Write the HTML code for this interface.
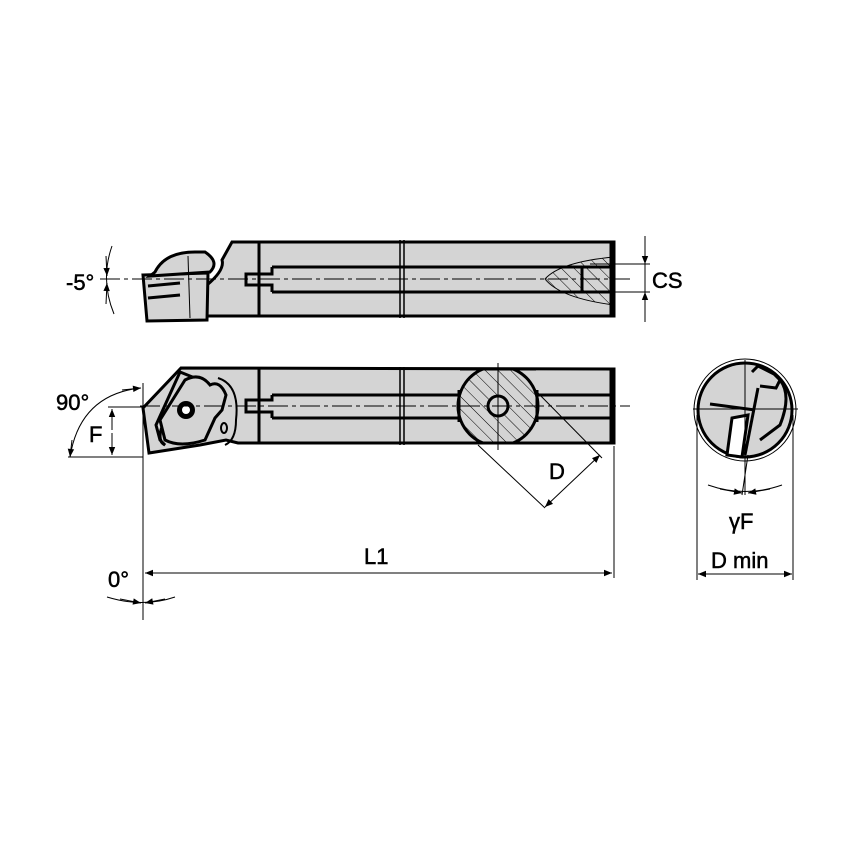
<!DOCTYPE html>
<html><head><meta charset="utf-8"><style>
html,body{margin:0;padding:0;background:#fff;}
svg{display:block;}
text{font-family:"Liberation Sans",sans-serif;font-size:22px;fill:#000;stroke:#000;stroke-width:0.5;}
</style></head><body>
<svg width="854" height="854" viewBox="0 0 854 854" xmlns="http://www.w3.org/2000/svg">
<defs>
<marker id="a" viewBox="0 0 10 10" refX="10" refY="5" markerWidth="15" markerHeight="8" orient="auto-start-reverse" markerUnits="userSpaceOnUse"><path d="M0,1 L10,5 L0,9 Z" fill="#000"/></marker>
<pattern id="h" width="9" height="9" patternUnits="userSpaceOnUse" patternTransform="rotate(-45)"><line x1="0" y1="0" x2="0" y2="9" stroke="#000" stroke-width="1"/></pattern>
<clipPath id="bar"><rect x="440" y="369" width="120" height="74"/></clipPath>
</defs>

<!-- TOP VIEW -->
<g stroke="#000" stroke-width="3" fill="#d4d4d4">
<path d="M222,260 L232,242 L614,242 L614,316 L206,316 L207,285 Q225,270 222,260 Z"/>
<path d="M143,275 L208,273 L207,320 L147,321 Z"/>
<path d="M155,272 Q165,252 195,252 L205,252 Q220,262 210,272 L150,276 Z"/>
</g>
<g stroke="#000" stroke-width="3" fill="none">
<line x1="259" y1="242" x2="259" y2="316"/>
<line x1="272" y1="267" x2="614" y2="267"/>
<line x1="272" y1="292" x2="614" y2="292"/>
<path d="M272,267 L272,274 L246,274 L246,285 L272,285 L272,292"/>
<line x1="612" y1="242" x2="612" y2="316" stroke-width="5"/>
<line x1="400" y1="240" x2="400" y2="318" stroke-width="1.5"/>
<line x1="404" y1="240" x2="404" y2="318" stroke-width="1.5"/>
<line x1="148" y1="286" x2="180" y2="283"/>
<line x1="148" y1="298" x2="180" y2="295"/>
<line x1="188" y1="256" x2="190" y2="318" stroke-width="1"/>
</g>
<path d="M614,257 Q560,262 545,279 Q560,298 614,305 Z" fill="url(#h)" stroke="#000" stroke-width="1"/>
<line x1="582" y1="267" x2="582" y2="292" stroke="#000" stroke-width="3"/>
<line x1="100" y1="279" x2="630" y2="279" stroke="#000" stroke-width="1" stroke-dasharray="20,4,4,4"/>
<!-- CS -->
<g stroke="#000" stroke-width="1">
<line x1="590" y1="264" x2="650" y2="264"/>
<line x1="590" y1="292" x2="650" y2="292"/>
<line x1="645" y1="236" x2="645" y2="322"/>
</g>
<line x1="645" y1="240" x2="645" y2="264" stroke="#000" marker-end="url(#a)"/>
<line x1="645" y1="316" x2="645" y2="292" stroke="#000" marker-end="url(#a)"/>
<text x="652" y="288" font-size="23">CS</text>
<!-- -5 -->
<path d="M112,246 Q100,280 114,314" stroke="#000" fill="none"/>
<line x1="106" y1="256" x2="107" y2="276" stroke="#000" marker-end="url(#a)"/>
<line x1="106" y1="304" x2="107" y2="283" stroke="#000" marker-end="url(#a)"/>
<text x="66" y="290">-5°</text>

<!-- SIDE VIEW -->
<g stroke="#000" stroke-width="3" fill="#d4d4d4">
<path d="M181,368 L614,369 L614,443 L238,443 L226,440 L200,445 L149,453 L143,408 Z"/>
</g>
<g stroke="#000" stroke-width="3" fill="none">
<line x1="259" y1="369" x2="259" y2="443"/>
<line x1="272" y1="395" x2="460" y2="395"/>
<line x1="272" y1="418" x2="460" y2="418"/>
<line x1="536" y1="395" x2="614" y2="395"/>
<line x1="536" y1="418" x2="614" y2="418"/>
<path d="M272,395 L272,400 L246,400 L246,412 L272,412 L272,418"/>
<line x1="612" y1="369" x2="612" y2="443" stroke-width="5"/>
<line x1="400" y1="367" x2="400" y2="445" stroke-width="1.5"/>
<line x1="404" y1="367" x2="404" y2="445" stroke-width="1.5"/>
<path d="M180,372 L195,378 L165,420 Q155,440 165,445 L160,440 L156,425 Z" fill="#d4d4d4"/>
<path d="M160,420 L185,380 Q200,372 210,385 Q220,380 226,395 L222,410 L215,418 L205,440 Q180,448 165,440 Z" fill="#d4d4d4"/>
<path d="M218,378 Q240,385 236,420 Q236,440 225,445" stroke-width="2"/>
</g>
<circle cx="186" cy="410" r="9" fill="#000"/>
<circle cx="186" cy="410" r="4" fill="#fff"/>
<ellipse cx="224" cy="428" rx="3" ry="5" fill="none" stroke="#000" stroke-width="2"/>
<!-- section circle -->
<g clip-path="url(#bar)">
<circle cx="498" cy="406" r="40" fill="#d4d4d4"/>
<circle cx="498" cy="406" r="40" fill="url(#h)" stroke="#000" stroke-width="3"/>
</g>
<line x1="459" y1="390" x2="459" y2="422" stroke="#000" stroke-width="3"/>
<line x1="537" y1="390" x2="537" y2="422" stroke="#000" stroke-width="3"/>
<line x1="460" y1="369" x2="536" y2="369" stroke="#000" stroke-width="3"/>
<line x1="460" y1="443" x2="536" y2="443" stroke="#000" stroke-width="3"/>
<circle cx="498" cy="406" r="10" fill="#d4d4d4" stroke="#000" stroke-width="3"/>
<line x1="498" y1="363" x2="498" y2="450" stroke="#000" stroke-width="1"/>
<line x1="140" y1="406" x2="630" y2="406" stroke="#000" stroke-width="1" stroke-dasharray="20,4,4,4"/>
<!-- D dim -->
<g stroke="#000" stroke-width="1">
<line x1="535" y1="390" x2="602" y2="458"/>
<line x1="478" y1="445" x2="545" y2="508"/>
<line x1="545" y1="507" x2="600" y2="455" marker-end="url(#a)" marker-start="url(#a)"/>
</g>
<text x="549" y="479" font-size="23">D</text>
<!-- 90 and F -->
<g stroke="#000" stroke-width="1" fill="none">
<line x1="143" y1="383" x2="143" y2="620"/>
<line x1="68" y1="457" x2="143" y2="457"/>
<line x1="108" y1="407" x2="143" y2="407"/>
<path d="M70,457 Q80,395 140,388"/>
</g>
<line x1="72" y1="440" x2="70" y2="457" stroke="#000" marker-end="url(#a)"/>
<line x1="122" y1="390" x2="141" y2="388" stroke="#000" marker-end="url(#a)"/>
<line x1="112" y1="430" x2="112" y2="409" stroke="#000" marker-end="url(#a)"/>
<line x1="112" y1="433" x2="112" y2="455" stroke="#000" marker-end="url(#a)"/>
<text x="56" y="410">90°</text>
<text x="89" y="442" font-size="23">F</text>

<!-- END VIEW -->
<circle cx="745" cy="410" r="51" fill="none" stroke="#000" stroke-width="1"/>
<circle cx="745" cy="410" r="47" fill="#d4d4d4" stroke="#000" stroke-width="3"/>
<path d="M752,372 L758,366 L774,374 L780,380 L776,388 L760,386" fill="none" stroke="#000" stroke-width="3"/>
<path d="M780,380 Q792,395 780,425 L760,440" fill="none" stroke="#000" stroke-width="3"/>
<path d="M732,418 L748,415 L742,457 L727,455 Z" fill="#fff" stroke="#000" stroke-width="3"/>
<line x1="710" y1="404" x2="755" y2="410" stroke="#000" stroke-width="3"/>
<line x1="758" y1="388" x2="745" y2="455" stroke="#000" stroke-width="3"/>
<line x1="693" y1="409" x2="798" y2="409" stroke="#000" stroke-width="1"/>
<line x1="745" y1="360" x2="745" y2="495" stroke="#000" stroke-width="1"/>
<line x1="748" y1="455" x2="742" y2="495" stroke="#000" stroke-width="1"/>
<path d="M708,485 Q745,498 782,485" fill="none" stroke="#000" stroke-width="1"/>
<line x1="720" y1="489" x2="742" y2="493" stroke="#000" marker-end="url(#a)"/>
<line x1="770" y1="489" x2="748" y2="493" stroke="#000" marker-end="url(#a)"/>
<text x="729" y="529">γF</text>
<line x1="697" y1="415" x2="697" y2="580" stroke="#000" stroke-width="1"/>
<line x1="793" y1="415" x2="793" y2="580" stroke="#000" stroke-width="1"/>
<line x1="717" y1="574" x2="698" y2="574" stroke="#000" marker-end="url(#a)"/>
<line x1="773" y1="574" x2="792" y2="574" stroke="#000" marker-end="url(#a)"/>
<line x1="717" y1="574" x2="773" y2="574" stroke="#000"/>
<text x="711" y="568">D min</text>

<!-- L1 -->
<line x1="614" y1="446" x2="614" y2="578" stroke="#000" stroke-width="1"/>
<line x1="145" y1="573" x2="612" y2="573" stroke="#000" stroke-width="1" marker-start="url(#a)" marker-end="url(#a)"/>
<text x="364" y="564">L1</text>
<!-- 0 deg -->
<text x="108" y="587">0°</text>
<path d="M107,597 Q143,608 175,597" fill="none" stroke="#000" stroke-width="1"/>
<line x1="120" y1="599" x2="141" y2="603" stroke="#000" marker-end="url(#a)"/>
<line x1="165" y1="599" x2="145" y2="603" stroke="#000" marker-end="url(#a)"/>
</svg>
</body></html>
